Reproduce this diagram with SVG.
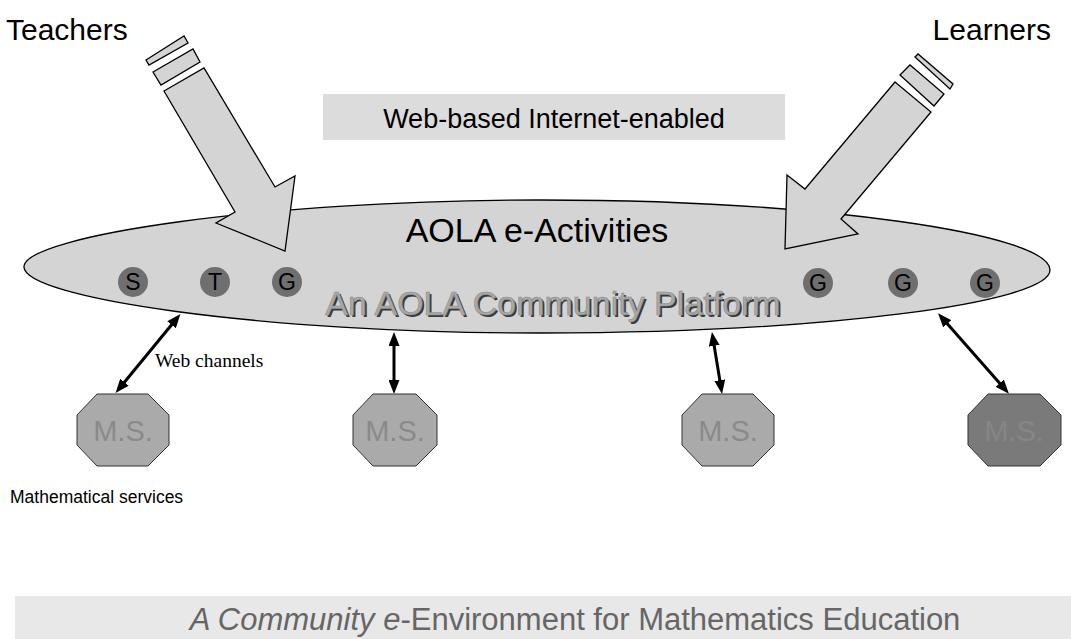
<svg xmlns="http://www.w3.org/2000/svg" width="1071" height="639" viewBox="0 0 1071 639">
<style>
.sans{font-family:"Liberation Sans",Arial,sans-serif}
.big{fill:#d4d4d4;stroke:#000;stroke-width:1.3;stroke-linejoin:miter}
.dot{fill:#6f6f6f}
.dl{font-family:"Liberation Sans",Arial,sans-serif;font-size:23px;fill:#000;text-anchor:middle}
.oct{stroke:#333;stroke-width:1}
.ms{font-family:"Liberation Sans",Arial,sans-serif;font-size:29px;text-anchor:middle}
.conn{stroke:#000;stroke-width:3;fill:none;marker-start:url(#ah);marker-end:url(#ah)}
</style>
<defs>
<marker id="ah" viewBox="0 0 14 11" refX="5" refY="5.5" markerWidth="14" markerHeight="11" markerUnits="userSpaceOnUse" orient="auto-start-reverse">
<path d="M0,0 L14,5.5 L0,11 Z" fill="#000"/>
</marker>
</defs>
<rect width="1071" height="639" fill="#fff"/>

<g id="title-band">
<rect x="15" y="596" width="1056" height="43" fill="#e8e8e8"/>
<text class="sans" x="575" y="630" font-size="31" fill="#666" text-anchor="middle"><tspan font-style="italic">A Community e</tspan>-Environment for Mathematics Education</text>
</g>

<g id="web-based">
<rect x="323" y="94" width="462" height="46" fill="#dcdcdc"/>
<text class="sans" x="554" y="128" font-size="27" fill="#000" text-anchor="middle">Web-based Internet-enabled</text>
</g>

<g id="teachers-label"><text class="sans" x="6" y="40" font-size="30" fill="#000">Teachers</text></g>
<g id="learners-label"><text class="sans" x="1051" y="40" font-size="30" fill="#000" text-anchor="end">Learners</text></g>

<g id="platform">
<path class="big" d="M24,266 C28,236 262,200 540,200 C820,200 1050,234 1050,270 C1050,303 820,333 540,333 C262,333 20,298 24,266 Z"/>
<text class="sans" x="537" y="242" font-size="34" fill="#000" text-anchor="middle">AOLA e-Activities</text>
<text class="sans" x="555" y="317" font-size="34" fill="#3a3a3a" text-anchor="middle">An AOLA Community Platform</text>
<text class="sans" x="553" y="315" font-size="34" fill="#a8a8a8" stroke="#8c8c8c" stroke-width="0.6" text-anchor="middle">An AOLA Community Platform</text>
</g>

<g id="teachers-arrow">
<polygon class="big" points="146,60 184,36 188,43 149,65"/>
<polygon class="big" points="153,72 193,49 200,62 161,85"/>
<polygon class="big" points="164,91 204,68 275,187 295,176 285,251 216,223 235,212"/>
</g>

<g id="learners-arrow">
<polygon class="big" points="915,57 918,54 953,84 950,89"/>
<polygon class="big" points="900,75 910,65 944,94 934,106"/>
<polygon class="big" points="895,82 931,112 841,219 858,234 785,249 787,175 805,189"/>
</g>

<g id="node-S"><circle class="dot" cx="133" cy="282" r="15"/><text class="dl" x="133" y="290">S</text></g>
<g id="node-T"><circle class="dot" cx="215" cy="282" r="15"/><text class="dl" x="215" y="290">T</text></g>
<g id="node-G1"><circle class="dot" cx="287" cy="282" r="15"/><text class="dl" x="287" y="290">G</text></g>
<g id="node-G2"><circle class="dot" cx="818" cy="283" r="15"/><text class="dl" x="818" y="291">G</text></g>
<g id="node-G3"><circle class="dot" cx="903" cy="283" r="15"/><text class="dl" x="903" y="291">G</text></g>
<g id="node-G4"><circle class="dot" cx="985" cy="283" r="15"/><text class="dl" x="985" y="291">G</text></g>

<g id="connectors">
<path class="conn" d="M174.7,321 L121.3,386"/>
<path class="conn" d="M394,341 L394,385"/>
<path class="conn" d="M713.4,340.9 L720.6,385.1"/>
<path class="conn" d="M944,320 L1003,387"/>
</g>
<g id="web-channels-label"><text x="155" y="367" font-family="'Liberation Serif','Times New Roman',serif" font-size="19.5" fill="#000">Web channels</text></g>

<g id="ms1">
<polygon class="oct" fill="#aaaaaa" points="97,394 148,394 169,415 169,445 148,466 97,466 77,445 77,415"/>
<text class="ms" x="123" y="441" fill="#8a8a8a">M.S.</text>
</g>
<g id="ms2">
<polygon class="oct" fill="#aaaaaa" points="373,394 416,394 437,415 437,445 416,466 373,466 353,445 353,415"/>
<text class="ms" x="395" y="441" fill="#8a8a8a">M.S.</text>
</g>
<g id="ms3">
<polygon class="oct" fill="#aaaaaa" points="702,394 753,394 774,415 774,445 753,466 702,466 682,445 682,415"/>
<text class="ms" x="728" y="441" fill="#8a8a8a">M.S.</text>
</g>
<g id="ms4">
<polygon class="oct" fill="#7a7a7a" points="988,394 1040,394 1061,415 1061,445 1040,466 988,466 968,445 968,415"/>
<text class="ms" x="1014" y="441" fill="#868686">M.S.</text>
</g>

<g id="ms-label"><text class="sans" x="10" y="503" font-size="17.5" fill="#000">Mathematical services</text></g>
</svg>
